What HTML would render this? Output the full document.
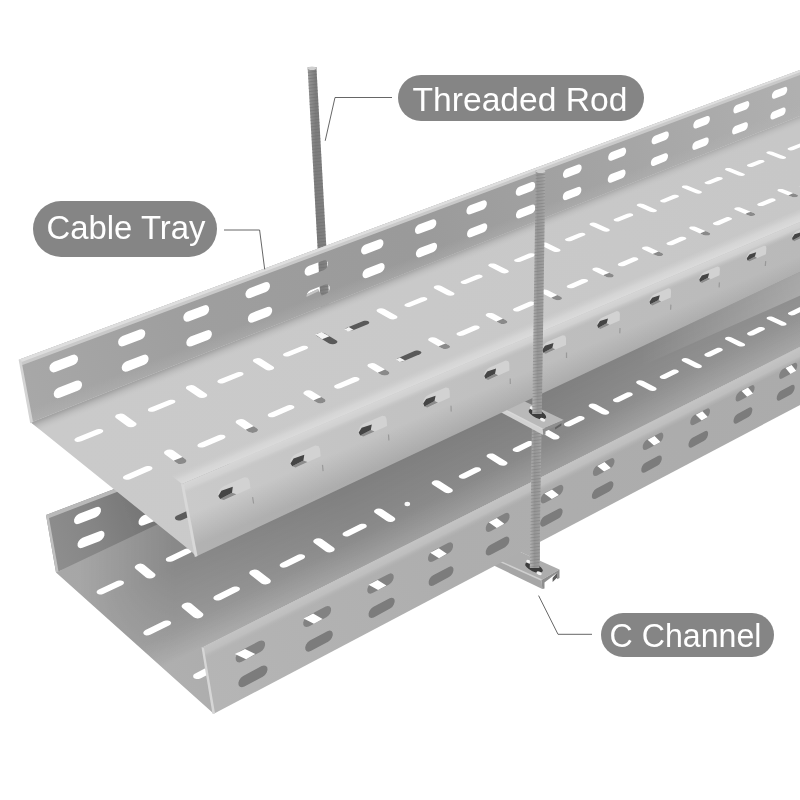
<!DOCTYPE html>
<html><head><meta charset="utf-8"><title>Cable Tray</title>
<style>
html,body{margin:0;padding:0;background:#fff;}
body{width:800px;height:800px;overflow:hidden;position:relative;font-family:"Liberation Sans",sans-serif;}
svg{position:absolute;left:0;top:0;display:block}
</style></head><body>
<svg width="800" height="800" viewBox="0 0 800 800">
<defs><linearGradient id="gUBW" gradientUnits="userSpaceOnUse" x1="20" y1="390" x2="800" y2="95"><stop offset="0" stop-color="#a8a8a8"/><stop offset="0.2" stop-color="#9f9f9f"/><stop offset="0.5" stop-color="#9a9a9a"/><stop offset="0.75" stop-color="#a4a4a4"/><stop offset="1" stop-color="#b0b0b0"/></linearGradient><linearGradient id="gUFL" gradientUnits="userSpaceOnUse" x1="60" y1="450" x2="800" y2="170"><stop offset="0" stop-color="#cacaca"/><stop offset="0.5" stop-color="#c9c9c9"/><stop offset="1" stop-color="#c7c7c7"/></linearGradient><linearGradient id="gUFW" gradientUnits="userSpaceOnUse" x1="190" y1="520" x2="800" y2="247"><stop offset="0" stop-color="#cacaca"/><stop offset="0.3" stop-color="#c3c3c3"/><stop offset="0.6" stop-color="#bebebe"/><stop offset="1" stop-color="#b9b9b9"/></linearGradient><linearGradient id="gLFW" gradientUnits="userSpaceOnUse" x1="205" y1="680" x2="800" y2="376"><stop offset="0" stop-color="#b5b5b5"/><stop offset="0.4" stop-color="#aeaeae"/><stop offset="1" stop-color="#ababab"/></linearGradient><linearGradient id="gLBW" gradientUnits="userSpaceOnUse" x1="46" y1="540" x2="230" y2="470"><stop offset="0" stop-color="#8e8e8e"/><stop offset="0.25" stop-color="#858585"/><stop offset="0.55" stop-color="#747474"/><stop offset="1" stop-color="#6e6e6e"/></linearGradient><linearGradient id="gROD" x1="0" y1="0" x2="1" y2="0"><stop offset="0" stop-color="#9a9a9a"/><stop offset="0.35" stop-color="#7c7c7c"/><stop offset="0.7" stop-color="#808080"/><stop offset="1" stop-color="#8e8e8e"/></linearGradient><linearGradient id="gJ1" gradientUnits="userSpaceOnUse" x1="400" y1="275.4" x2="404.1" y2="285.6"><stop offset="0" stop-color="#a4a4a4" stop-opacity="1"/><stop offset="0.35" stop-color="#b4b4b4" stop-opacity="0.7"/><stop offset="1" stop-color="#c8c8c8" stop-opacity="0"/></linearGradient><linearGradient id="gLFL" gradientUnits="userSpaceOnUse" x1="56" y1="600" x2="800" y2="300"><stop offset="0" stop-color="#a8a8a8"/><stop offset="0.15" stop-color="#a2a2a2"/><stop offset="0.38" stop-color="#969696"/><stop offset="0.65" stop-color="#959595"/><stop offset="0.85" stop-color="#9f9f9f"/><stop offset="1" stop-color="#a3a3a3"/></linearGradient><linearGradient id="gLFLd" gradientUnits="userSpaceOnUse" x1="450" y1="436.9" x2="486.2" y2="513.8"><stop offset="0" stop-color="#000000" stop-opacity="0.15"/><stop offset="0.55" stop-color="#000000" stop-opacity="0.08"/><stop offset="1" stop-color="#000000" stop-opacity="0"/></linearGradient><linearGradient id="gLFLs" gradientUnits="userSpaceOnUse" x1="450" y1="523.0" x2="437.4" y2="498.0"><stop offset="0" stop-color="#ffffff" stop-opacity="0.12"/><stop offset="1" stop-color="#ffffff" stop-opacity="0"/></linearGradient><linearGradient id="gUFWs" gradientUnits="userSpaceOnUse" x1="450" y1="370.4" x2="474.2" y2="427.5"><stop offset="0" stop-color="#ffffff" stop-opacity="0.0"/><stop offset="0.15" stop-color="#ffffff" stop-opacity="0.0"/><stop offset="0.5" stop-color="#000000" stop-opacity="0.0"/><stop offset="1" stop-color="#000000" stop-opacity="0.12"/></linearGradient><linearGradient id="gUFWr" gradientUnits="userSpaceOnUse" x1="450" y1="370.4" x2="454.3" y2="380.5"><stop offset="0" stop-color="#d6d6d6" stop-opacity="1"/><stop offset="0.5" stop-color="#d2d2d2" stop-opacity="0.9"/><stop offset="1" stop-color="#c6c6c6" stop-opacity="0"/></linearGradient><linearGradient id="gUFLh" gradientUnits="userSpaceOnUse" x1="450" y1="370.4" x2="444.9" y2="358.4"><stop offset="0" stop-color="#dcdcdc" stop-opacity="0.95"/><stop offset="0.45" stop-color="#dadada" stop-opacity="0.7"/><stop offset="1" stop-color="#d0d0d0" stop-opacity="0"/></linearGradient><linearGradient id="gLFWr" gradientUnits="userSpaceOnUse" x1="450" y1="523.0" x2="455.8" y2="534.6"><stop offset="0" stop-color="#c4c4c4" stop-opacity="1"/><stop offset="0.55" stop-color="#c0c0c0" stop-opacity="0.9"/><stop offset="1" stop-color="#b4b4b4" stop-opacity="0"/></linearGradient><linearGradient id="gUBWr" gradientUnits="userSpaceOnUse" x1="400" y1="275.4" x2="395.6" y2="264.3"><stop offset="0" stop-color="#b8b8b8" stop-opacity="0.35"/><stop offset="1" stop-color="#b8b8b8" stop-opacity="0"/></linearGradient><linearGradient id="gROD2" x1="0" y1="0" x2="1" y2="0"><stop offset="0" stop-color="#b4b4b4"/><stop offset="0.4" stop-color="#959595"/><stop offset="0.75" stop-color="#9c9c9c"/><stop offset="1" stop-color="#a8a8a8"/></linearGradient><linearGradient id="gMk" gradientUnits="userSpaceOnUse" x1="80" y1="0" x2="175" y2="0"><stop offset="0" stop-color="#000"/><stop offset="1" stop-color="#fff"/></linearGradient><mask id="mL" maskUnits="userSpaceOnUse" x="0" y="0" width="800" height="800"><rect x="0" y="0" width="800" height="800" fill="url(#gMk)"/></mask><linearGradient id="gBand" gradientUnits="userSpaceOnUse" x1="640" y1="0" x2="800" y2="0"><stop offset="0" stop-color="#ffffff" stop-opacity="0"/><stop offset="0.5" stop-color="#ffffff" stop-opacity="0.12"/><stop offset="1" stop-color="#ffffff" stop-opacity="0.24"/></linearGradient><filter id="soft" x="-2%" y="-2%" width="104%" height="104%"><feGaussianBlur stdDeviation="0.45"/></filter></defs>
<g filter="url(#soft)">
<polygon points="307.6,67.0 316.4,67.0 330.9,330.0 322.1,330.0" fill="url(#gROD)" />
<path d="M307.7,69.2L316.5,68.0M307.9,72.4L316.7,71.2M308.0,75.6L316.8,74.4M308.2,78.8L317.0,77.6M308.4,82.0L317.2,80.8M308.6,85.2L317.4,84.0M308.7,88.4L317.5,87.2M308.9,91.7L317.7,90.5M309.1,94.9L317.9,93.7M309.3,98.1L318.1,96.9M309.5,101.3L318.3,100.1M309.6,104.5L318.4,103.3M309.8,107.7L318.6,106.5M310.0,110.9L318.8,109.7M310.2,114.1L319.0,112.9M310.3,117.3L319.1,116.1M310.5,120.5L319.3,119.3M310.7,123.7L319.5,122.5M310.9,126.9L319.7,125.7M311.0,130.1L319.8,128.9M311.2,133.3L320.0,132.2M311.4,136.6L320.2,135.4M311.6,139.8L320.4,138.6M311.8,143.0L320.6,141.8M311.9,146.2L320.7,145.0M312.1,149.4L320.9,148.2M312.3,152.6L321.1,151.4M312.5,155.8L321.3,154.6M312.6,159.0L321.4,157.8M312.8,162.2L321.6,161.0M313.0,165.4L321.8,164.2M313.2,168.6L322.0,167.4M313.3,171.8L322.1,170.6M313.5,175.0L322.3,173.8M313.7,178.3L322.5,177.1M313.9,181.5L322.7,180.3M314.1,184.7L322.9,183.5M314.2,187.9L323.0,186.7M314.4,191.1L323.2,189.9M314.6,194.3L323.4,193.1M314.8,197.5L323.6,196.3M314.9,200.7L323.7,199.5M315.1,203.9L323.9,202.7M315.3,207.1L324.1,205.9M315.5,210.3L324.3,209.1M315.6,213.5L324.4,212.3M315.8,216.7L324.6,215.5M316.0,219.9L324.8,218.7M316.2,223.2L325.0,222.0M316.4,226.4L325.2,225.2M316.5,229.6L325.3,228.4M316.7,232.8L325.5,231.6M316.9,236.0L325.7,234.8M317.1,239.2L325.9,238.0M317.2,242.4L326.0,241.2M317.4,245.6L326.2,244.4M317.6,248.8L326.4,247.6M317.8,252.0L326.6,250.8M317.9,255.2L326.7,254.0M318.1,258.4L326.9,257.2M318.3,261.6L327.1,260.4M318.5,264.9L327.3,263.6M318.7,268.1L327.5,266.9M318.8,271.3L327.6,270.1M319.0,274.5L327.8,273.3M319.2,277.7L328.0,276.5M319.4,280.9L328.2,279.7M319.5,284.1L328.3,282.9M319.7,287.3L328.5,286.1M319.9,290.5L328.7,289.3M320.1,293.7L328.9,292.5M320.2,296.9L329.0,295.7M320.4,300.1L329.2,298.9M320.6,303.3L329.4,302.1M320.8,306.5L329.6,305.3M321.0,309.8L329.8,308.6M321.1,313.0L329.9,311.8M321.3,316.2L330.1,315.0M321.5,319.4L330.3,318.2M321.7,322.6L330.5,321.4M321.8,325.8L330.6,324.6M322.0,329.0L330.8,327.8" stroke="#6c6c6c" stroke-width="0.9" fill="none" opacity="0.55"/>
<ellipse cx="312.0" cy="68.2" rx="4.4" ry="1.8" fill="#cfcfcf"/>
<path d="M46.0,515.0 L230.0,445.0 L230.0,505.0 L56.0,572.5Z M96.0,507.2 L98.2,506.8 L99.9,507.5 L100.9,509.1 L100.9,511.4 L99.9,513.7 L98.2,515.8 L96.0,517.2 L79.0,523.8 L76.8,524.2 L75.1,523.5 L74.1,521.9 L74.1,519.6 L75.1,517.3 L76.8,515.2 L79.0,513.8Z M99.5,531.2 L101.7,530.8 L103.4,531.5 L104.4,533.1 L104.4,535.4 L103.4,537.7 L101.7,539.8 L99.5,541.2 L82.5,547.8 L80.3,548.2 L78.6,547.5 L77.6,545.9 L77.6,543.6 L78.6,541.3 L80.3,539.2 L82.5,537.8Z M160.5,508.7 L162.7,508.3 L164.4,509.0 L165.4,510.6 L165.4,512.9 L164.4,515.2 L162.7,517.3 L160.5,518.7 L143.5,525.3 L141.3,525.7 L139.6,525.0 L138.6,523.4 L138.6,521.1 L139.6,518.8 L141.3,516.7 L143.5,515.3Z " fill="url(#gLBW)" fill-rule="evenodd"/>
<polygon points="46.0,515.0 230.0,445.0 230.0,448.5 48.0,518.5" fill="#b9b9b9" />
<polygon points="46.0,515.0 48.6,515.5 58.6,572.0 56.0,572.5" fill="#c0c0c0" />
<polygon points="56.0,572.5 230.0,490.0 810.0,240.0 810.0,342.0 202.5,647.5 213.8,713.8" fill="url(#gLFL)" />
<polygon points="56.0,572.5 230.0,490.0 810.0,240.0 810.0,342.0 202.5,647.5 213.8,713.8" fill="url(#gLFLs)" />
<polygon points="56.0,572.5 230.0,490.0 810.0,240.0 810.0,342.0 202.5,647.5 213.8,713.8" fill="url(#gLFLd)" mask="url(#mL)"/>
<polygon points="640.0,347.4 810.0,267.3 810.0,291.3 640.0,366.4" fill="url(#gBand)" />
<path d="M116.9,581.1 L118.8,580.5 L120.9,580.4 L122.7,580.9 L123.8,581.8 L124.0,583.0 L123.3,584.2 L121.8,585.3 L103.7,593.8 L101.7,594.4 L99.7,594.5 L97.9,594.0 L96.8,593.0 L96.6,591.8 L97.3,590.6 L98.8,589.5Z M146.0,577.5 L147.6,578.3 L149.8,578.5 L152.1,578.2 L154.1,577.2 L155.3,575.9 L155.5,574.6 L154.7,573.4 L144.2,564.7 L142.6,563.9 L140.4,563.6 L138.1,564.0 L136.2,564.9 L135.0,566.2 L134.7,567.5 L135.5,568.7Z M184.9,549.1 L186.8,548.6 L188.8,548.5 L190.5,549.0 L191.6,549.8 L191.9,551.0 L191.3,552.2 L189.9,553.1 L172.8,561.2 L170.9,561.8 L168.9,561.8 L167.1,561.4 L166.0,560.5 L165.8,559.3 L166.4,558.1 L167.8,557.2Z " fill="#fff"/>
<path d="M163.8,621.1 L165.8,620.4 L167.9,620.4 L169.7,620.9 L170.9,621.9 L171.2,623.1 L170.5,624.5 L169.0,625.6 L150.7,634.6 L148.7,635.3 L146.5,635.4 L144.7,634.9 L143.5,633.8 L143.3,632.5 L144.0,631.2 L145.5,630.1Z M193.7,617.3 L195.4,618.1 L197.7,618.4 L200.0,618.0 L202.0,617.0 L203.2,615.6 L203.4,614.1 L202.5,612.9 L191.3,603.6 L189.6,602.7 L187.3,602.5 L185.0,602.9 L183.0,603.9 L181.8,605.2 L181.6,606.7 L182.5,607.9Z M232.6,587.1 L234.6,586.4 L236.6,586.4 L238.4,586.9 L239.6,587.8 L240.0,589.0 L239.4,590.3 L238.0,591.3 L220.7,599.9 L218.7,600.5 L216.6,600.6 L214.8,600.1 L213.7,599.1 L213.3,597.9 L214.0,596.6 L215.4,595.6Z M261.5,583.5 L263.2,584.3 L265.5,584.5 L267.7,584.1 L269.6,583.2 L270.7,581.9 L270.8,580.5 L269.9,579.3 L258.5,570.5 L256.8,569.7 L254.6,569.5 L252.4,569.9 L250.5,570.8 L249.4,572.0 L249.3,573.4 L250.1,574.6Z M297.9,554.8 L299.7,554.3 L301.7,554.2 L303.5,554.7 L304.7,555.6 L305.1,556.7 L304.6,557.9 L303.3,558.9 L286.9,567.0 L285.0,567.6 L283.0,567.7 L281.2,567.2 L280.0,566.3 L279.6,565.1 L280.2,563.9 L281.5,562.9Z M325.8,551.4 L327.5,552.2 L329.7,552.4 L331.8,552.1 L333.6,551.2 L334.6,550.0 L334.6,548.6 L333.7,547.5 L322.2,539.2 L320.5,538.4 L318.3,538.2 L316.2,538.5 L314.4,539.4 L313.4,540.6 L313.3,541.9 L314.2,543.1Z M359.7,524.3 L361.4,523.8 L363.4,523.7 L365.2,524.1 L366.4,525.0 L366.8,526.1 L366.4,527.2 L365.2,528.1 L349.6,535.8 L347.8,536.4 L345.9,536.5 L344.1,536.0 L342.9,535.2 L342.5,534.1 L342.9,532.9 L344.2,532.0Z M386.7,521.1 L388.4,521.8 L390.5,522.0 L392.6,521.7 L394.3,520.8 L395.2,519.7 L395.2,518.4 L394.2,517.3 L382.6,509.4 L380.9,508.7 L378.8,508.5 L376.7,508.8 L375.0,509.7 L374.1,510.8 L374.1,512.0 L375.0,513.1Z M444.5,492.3 L446.2,493.0 L448.3,493.2 L450.4,492.8 L452.0,492.0 L452.8,490.9 L452.7,489.7 L451.7,488.7 L440.0,481.2 L438.3,480.5 L436.2,480.3 L434.2,480.6 L432.6,481.4 L431.7,482.5 L431.8,483.7 L432.8,484.7Z M474.2,467.8 L475.8,467.3 L477.6,467.2 L479.4,467.6 L480.6,468.4 L481.1,469.4 L480.8,470.4 L479.7,471.2 L465.7,478.2 L464.1,478.7 L462.2,478.7 L460.5,478.3 L459.2,477.6 L458.7,476.6 L459.1,475.5 L460.2,474.7Z M499.5,464.9 L501.2,465.5 L503.3,465.7 L505.2,465.4 L506.7,464.6 L507.5,463.6 L507.4,462.5 L506.3,461.5 L494.5,454.3 L492.9,453.6 L490.8,453.5 L488.9,453.8 L487.4,454.5 L486.6,455.5 L486.7,456.7 L487.7,457.6Z M527.3,441.5 L528.8,441.1 L530.6,441.0 L532.3,441.4 L533.6,442.1 L534.1,443.1 L533.9,444.0 L532.9,444.8 L519.5,451.5 L517.9,451.9 L516.1,452.0 L514.4,451.6 L513.2,450.9 L512.6,449.9 L512.9,448.9 L513.9,448.1Z M551.9,438.8 L553.6,439.4 L555.6,439.6 L557.5,439.3 L558.9,438.6 L559.6,437.6 L559.4,436.5 L558.4,435.5 L546.5,428.7 L544.8,428.1 L542.9,427.9 L541.0,428.2 L539.5,428.9 L538.8,429.9 L539.0,431.0 L540.0,431.9Z M577.9,416.5 L579.4,416.1 L581.1,416.1 L582.8,416.4 L584.0,417.1 L584.6,418.0 L584.4,418.9 L583.5,419.7 L570.7,426.0 L569.2,426.5 L567.5,426.5 L565.8,426.2 L564.5,425.4 L564.0,424.5 L564.2,423.6 L565.2,422.8Z M601.8,413.9 L603.4,414.5 L605.4,414.7 L607.2,414.4 L608.6,413.7 L609.3,412.8 L609.0,411.7 L607.9,410.8 L596.1,404.3 L594.4,403.7 L592.5,403.5 L590.6,403.8 L589.3,404.5 L588.6,405.4 L588.8,406.5 L589.9,407.4Z M626.2,392.7 L627.6,392.3 L629.3,392.2 L631.0,392.6 L632.2,393.2 L632.8,394.1 L632.6,395.0 L631.8,395.7 L619.6,401.7 L618.2,402.2 L616.4,402.2 L614.8,401.9 L613.5,401.2 L612.9,400.3 L613.1,399.4 L614.0,398.7Z M649.4,390.2 L651.0,390.8 L652.9,390.9 L654.7,390.7 L656.1,390.0 L656.6,389.1 L656.3,388.1 L655.3,387.3 L643.4,381.0 L641.7,380.5 L639.8,380.3 L638.0,380.6 L636.7,381.2 L636.1,382.1 L636.4,383.1 L637.5,383.9Z M672.3,369.9 L673.7,369.5 L675.3,369.5 L676.9,369.8 L678.2,370.4 L678.8,371.3 L678.7,372.1 L677.9,372.8 L666.3,378.6 L664.9,379.0 L663.2,379.0 L661.5,378.7 L660.3,378.0 L659.7,377.2 L659.8,376.4 L660.7,375.7Z M694.8,367.5 L696.5,368.1 L698.4,368.3 L700.1,368.0 L701.4,367.4 L701.9,366.5 L701.6,365.6 L700.5,364.7 L688.6,358.8 L687.0,358.2 L685.1,358.1 L683.4,358.3 L682.1,358.9 L681.6,359.8 L681.9,360.7 L682.9,361.5Z M716.3,348.2 L717.7,347.8 L719.3,347.7 L720.9,348.0 L722.2,348.7 L722.8,349.4 L722.7,350.2 L721.9,350.9 L710.8,356.4 L709.5,356.8 L707.8,356.9 L706.2,356.5 L705.0,355.9 L704.4,355.1 L704.4,354.3 L705.2,353.6Z M738.3,345.9 L739.9,346.4 L741.8,346.6 L743.5,346.3 L744.7,345.7 L745.2,344.9 L744.8,344.0 L743.7,343.2 L731.8,337.5 L730.2,337.0 L728.4,336.8 L726.7,337.0 L725.5,337.6 L725.0,338.5 L725.3,339.4 L726.4,340.1Z M758.5,327.3 L759.8,327.0 L761.4,326.9 L763.0,327.2 L764.2,327.8 L764.9,328.6 L764.9,329.3 L764.1,330.0 L753.5,335.2 L752.2,335.6 L750.6,335.7 L749.0,335.4 L747.7,334.8 L747.1,334.0 L747.1,333.2 L747.9,332.6Z M779.9,325.1 L781.5,325.7 L783.3,325.8 L785.0,325.6 L786.1,325.0 L786.6,324.2 L786.2,323.3 L785.1,322.6 L773.2,317.1 L771.6,316.6 L769.8,316.5 L768.2,316.7 L767.0,317.2 L766.6,318.0 L766.9,318.9 L768.0,319.6Z M798.9,307.4 L800.2,307.0 L801.7,307.0 L803.3,307.3 L804.5,307.8 L805.2,308.6 L805.2,309.3 L804.5,309.9 L794.3,315.0 L793.1,315.3 L791.5,315.4 L789.9,315.1 L788.7,314.5 L788.0,313.8 L788.0,313.0 L788.7,312.4Z M819.8,305.3 L821.4,305.8 L823.1,305.9 L824.8,305.7 L825.9,305.1 L826.2,304.4 L825.8,303.5 L824.7,302.8 L812.9,297.6 L811.3,297.1 L809.5,296.9 L807.9,297.2 L806.8,297.7 L806.4,298.5 L806.8,299.3 L807.9,300.0Z " fill="#fff"/>
<ellipse cx="407.3" cy="504.0" rx="2.8" ry="2.2" fill="#f8f8f8"/>
<path d="M213.8,663.8 L215.8,663.1 L218.0,663.0 L219.9,663.6 L221.2,664.6 L221.5,666.0 L220.9,667.4 L219.4,668.6 L200.9,678.3 L198.8,679.0 L196.5,679.1 L194.6,678.5 L193.4,677.4 L193.1,676.0 L193.7,674.6 L195.3,673.4Z " fill="#fff"/>
<polygon points="470.0,548.0 494.0,540.0 559.5,569.5 541.5,580.0" fill="#adadad" />
<polygon points="470.0,548.0 541.5,580.0 542.3,589.0 471.5,554.8" fill="#a6a6a6" />
<path d="M470.0,548.0L541.5,580.0" stroke="#cfcfcf" stroke-width="1.4" fill="none"/>
<polygon points="541.5,580.0 559.5,569.5 559.5,578.0 557.1,579.2 557.1,572.7 544.5,582.6 544.5,588.4 542.3,589.0" fill="#8e8e8e" />
<polygon points="552.6,577.9 557.1,572.7 557.1,577.6 552.6,582.0" fill="#5e5e5e" />
<ellipse cx="534" cy="567.5" rx="9.5" ry="4" fill="#3c3c3c" transform="rotate(24 534 567.5)"/>
<ellipse cx="541" cy="570.6" rx="2.8" ry="1.7" fill="#f2f2f2" transform="rotate(24 534 567.5)"/>
<ellipse cx="527" cy="564.4" rx="2.8" ry="1.7" fill="#f2f2f2" transform="rotate(24 534 567.5)"/>
<polygon points="202.5,647.5 810.0,342.0 810.0,399.7 213.8,713.8" fill="url(#gLFW)" />
<polygon points="508.0,557.8 540.0,540.9 540.0,561.0 516.0,550.0" fill="url(#gLFW)" />
<polygon points="202.5,647.5 810.0,342.0 810.0,356.0 205.0,662.0" fill="url(#gLFWr)" />
<polygon points="201.5,647.2 204.0,648.3 215.0,713.3 212.5,714.0" fill="#d6d6d6" />
<path d="M259.2,641.1 L261.6,640.4 L263.6,641.0 L264.9,642.6 L265.1,645.0 L264.3,647.7 L262.6,650.2 L260.3,651.9 L241.7,661.7 L239.3,662.4 L237.2,661.9 L235.9,660.3 L235.6,657.8 L236.5,655.1 L238.2,652.6 L240.6,650.8Z M325.7,606.6 L327.9,606.0 L329.8,606.5 L331.0,608.2 L331.1,610.5 L330.3,613.2 L328.6,615.6 L326.4,617.3 L308.8,626.5 L306.5,627.1 L304.6,626.6 L303.4,625.0 L303.2,622.6 L304.1,619.9 L305.8,617.5 L308.0,615.8Z M388.7,573.9 L390.8,573.3 L392.6,573.9 L393.6,575.5 L393.7,577.9 L392.8,580.5 L391.2,582.8 L389.1,584.4 L372.5,593.1 L370.3,593.7 L368.5,593.2 L367.4,591.6 L367.3,589.2 L368.2,586.6 L369.8,584.2 L371.9,582.6Z M448.4,542.8 L450.5,542.3 L452.1,542.9 L453.0,544.5 L453.0,546.9 L452.2,549.4 L450.6,551.7 L448.6,553.2 L432.8,561.5 L430.8,562.1 L429.1,561.5 L428.1,559.9 L428.1,557.5 L428.9,555.0 L430.5,552.7 L432.6,551.1Z M505.2,513.3 L507.1,512.8 L508.7,513.5 L509.5,515.1 L509.5,517.4 L508.6,519.9 L507.1,522.1 L505.2,523.6 L490.1,531.5 L488.2,532.0 L486.7,531.4 L485.8,529.8 L485.8,527.5 L486.6,524.9 L488.2,522.7 L490.1,521.2Z M559.3,485.3 L561.1,484.8 L562.5,485.5 L563.3,487.1 L563.2,489.3 L562.3,491.8 L560.8,493.9 L559.0,495.4 L544.7,502.9 L542.9,503.4 L541.4,502.7 L540.6,501.1 L540.7,498.8 L541.5,496.4 L543.1,494.2 L544.9,492.7Z M610.8,458.5 L612.5,458.1 L613.8,458.8 L614.5,460.4 L614.4,462.6 L613.5,465.0 L612.1,467.1 L610.3,468.5 L596.7,475.7 L594.9,476.1 L593.6,475.4 L592.9,473.8 L593.0,471.6 L593.8,469.2 L595.3,467.0 L597.1,465.6Z M659.9,433.0 L661.5,432.6 L662.7,433.3 L663.3,434.9 L663.2,437.1 L662.3,439.5 L660.9,441.5 L659.2,442.9 L646.2,449.7 L644.6,450.1 L643.3,449.4 L642.7,447.8 L642.8,445.6 L643.7,443.2 L645.1,441.2 L646.8,439.8Z M706.8,408.7 L708.3,408.3 L709.5,409.0 L710.0,410.6 L709.8,412.8 L708.9,415.1 L707.6,417.1 L706.0,418.4 L693.5,424.9 L692.0,425.3 L690.8,424.6 L690.2,423.0 L690.4,420.8 L691.2,418.5 L692.6,416.5 L694.3,415.1Z M751.6,385.4 L753.0,385.1 L754.1,385.8 L754.6,387.4 L754.4,389.5 L753.5,391.8 L752.2,393.7 L750.6,395.0 L738.7,401.2 L737.2,401.5 L736.1,400.9 L735.6,399.3 L735.8,397.1 L736.7,394.8 L738.1,392.9 L739.6,391.6Z M794.4,363.1 L795.8,362.8 L796.8,363.6 L797.3,365.1 L797.0,367.2 L796.2,369.5 L794.8,371.4 L793.3,372.6 L782.0,378.6 L780.5,378.9 L779.5,378.2 L779.1,376.6 L779.3,374.5 L780.2,372.2 L781.5,370.3 L783.0,369.1Z M835.5,341.8 L836.8,341.5 L837.8,342.3 L838.1,343.8 L837.9,345.9 L837.0,348.1 L835.7,350.0 L834.3,351.2 L823.4,356.9 L822.0,357.1 L821.1,356.4 L820.7,354.9 L820.9,352.8 L821.8,350.6 L823.1,348.7 L824.5,347.5Z " fill="#828282"/>
<path d="M234.9,654.1 L245.0,648.9 L255.3,654.1 L246.1,659.2Z M303.6,618.4 L313.1,613.5 L322.6,618.9 L313.9,623.7Z M368.6,584.7 L377.6,580.0 L386.4,585.5 L378.1,590.1Z M430.2,552.7 L438.8,548.2 L446.8,553.8 L439.0,558.2Z M488.7,522.3 L496.8,518.1 L504.3,523.7 L496.8,527.9Z M544.3,493.4 L552.0,489.4 L558.9,495.1 L551.8,499.1Z M597.2,465.9 L604.5,462.1 L610.9,467.9 L604.1,471.6Z M647.6,439.7 L654.6,436.1 L660.5,441.9 L654.0,445.5Z M695.7,414.8 L702.4,411.3 L707.8,417.1 L701.6,420.6Z M741.6,390.9 L748.0,387.6 L753.0,393.4 L747.1,396.7Z M785.5,368.1 L791.6,364.9 L796.2,370.8 L790.5,374.0Z M827.4,346.3 L833.3,343.2 L837.6,349.1 L832.1,352.2Z " fill="#ffffff"/>
<path d="M261.7,666.1 L264.0,665.4 L266.0,665.9 L267.3,667.5 L267.5,669.8 L266.7,672.5 L265.0,674.9 L262.7,676.7 L244.4,686.5 L242.0,687.2 L239.9,686.8 L238.6,685.2 L238.4,682.8 L239.2,680.2 L240.9,677.7 L243.2,675.9Z M327.4,631.3 L329.6,630.6 L331.5,631.1 L332.6,632.7 L332.8,635.1 L331.9,637.7 L330.3,640.1 L328.1,641.7 L310.7,651.0 L308.5,651.7 L306.6,651.2 L305.4,649.6 L305.2,647.3 L306.0,644.7 L307.7,642.2 L309.9,640.5Z M389.7,598.3 L391.8,597.7 L393.5,598.2 L394.6,599.8 L394.6,602.1 L393.8,604.6 L392.2,607.0 L390.1,608.6 L373.7,617.4 L371.5,618.0 L369.7,617.5 L368.7,615.9 L368.6,613.6 L369.4,611.0 L371.0,608.7 L373.1,607.0Z M448.9,566.9 L450.9,566.3 L452.5,566.9 L453.4,568.5 L453.4,570.8 L452.6,573.3 L451.0,575.5 L449.0,577.1 L433.4,585.5 L431.4,586.0 L429.7,585.5 L428.8,583.9 L428.7,581.6 L429.5,579.1 L431.1,576.8 L433.1,575.2Z M505.1,537.1 L507.0,536.6 L508.5,537.2 L509.3,538.7 L509.3,541.0 L508.5,543.4 L506.9,545.6 L505.1,547.2 L490.2,555.1 L488.2,555.6 L486.7,555.1 L485.8,553.5 L485.8,551.2 L486.7,548.8 L488.2,546.5 L490.2,545.0Z M558.7,508.7 L560.4,508.2 L561.9,508.9 L562.6,510.4 L562.5,512.6 L561.7,515.0 L560.2,517.2 L558.4,518.6 L544.2,526.2 L542.4,526.7 L541.0,526.1 L540.2,524.5 L540.2,522.3 L541.1,519.9 L542.6,517.7 L544.4,516.2Z M609.7,481.6 L611.4,481.2 L612.7,481.9 L613.4,483.4 L613.3,485.6 L612.4,488.0 L611.0,490.1 L609.2,491.5 L595.7,498.7 L594.0,499.1 L592.6,498.5 L591.9,497.0 L592.0,494.8 L592.9,492.4 L594.3,490.3 L596.1,488.8Z M658.4,455.8 L660.0,455.4 L661.2,456.1 L661.8,457.7 L661.7,459.8 L660.8,462.1 L659.4,464.2 L657.7,465.5 L644.8,472.4 L643.2,472.8 L641.9,472.2 L641.3,470.7 L641.4,468.5 L642.3,466.1 L643.7,464.1 L645.4,462.7Z M704.9,431.2 L706.4,430.8 L707.6,431.5 L708.1,433.0 L707.9,435.2 L707.1,437.5 L705.7,439.4 L704.1,440.8 L691.7,447.4 L690.2,447.7 L689.0,447.1 L688.5,445.5 L688.6,443.4 L689.5,441.1 L690.9,439.1 L692.5,437.8Z M749.4,407.6 L750.8,407.3 L751.9,408.0 L752.4,409.5 L752.1,411.6 L751.3,413.9 L750.0,415.8 L748.4,417.1 L736.6,423.4 L735.1,423.7 L734.0,423.1 L733.5,421.5 L733.7,419.4 L734.6,417.1 L735.9,415.2 L737.5,413.9Z M791.9,385.1 L793.3,384.8 L794.3,385.4 L794.7,387.0 L794.5,389.1 L793.6,391.3 L792.3,393.2 L790.8,394.4 L779.5,400.4 L778.1,400.7 L777.1,400.1 L776.7,398.5 L776.9,396.5 L777.8,394.2 L779.1,392.3 L780.6,391.1Z M832.7,363.5 L834.0,363.2 L834.9,363.9 L835.3,365.4 L835.0,367.4 L834.2,369.6 L832.9,371.5 L831.5,372.7 L820.7,378.4 L819.3,378.7 L818.4,378.1 L818.0,376.5 L818.2,374.5 L819.1,372.3 L820.4,370.4 L821.8,369.2Z " fill="#7b7b7b"/>
<polygon points="532.1,416.0 541.7,416.0 539.4,568.0 529.8,568.0" fill="url(#gROD2)" />
<path d="M532.1,418.2L541.7,417.0M532.0,421.5L541.6,420.3M532.0,424.7L541.6,423.5M531.9,427.9L541.5,426.7M531.9,431.2L541.5,430.0M531.8,434.4L541.4,433.2M531.8,437.6L541.4,436.4M531.7,440.9L541.3,439.7M531.7,444.1L541.3,442.9M531.6,447.3L541.2,446.1M531.6,450.6L541.2,449.4M531.5,453.8L541.1,452.6M531.5,457.0L541.1,455.8M531.4,460.3L541.0,459.1M531.4,463.5L541.0,462.3M531.3,466.7L540.9,465.5M531.3,470.0L540.9,468.8M531.2,473.2L540.8,472.0M531.2,476.4L540.8,475.2M531.1,479.7L540.7,478.5M531.1,482.9L540.7,481.7M531.0,486.1L540.6,484.9M531.0,489.4L540.6,488.2M531.0,492.6L540.5,491.4M530.9,495.8L540.5,494.6M530.9,499.1L540.5,497.9M530.8,502.3L540.4,501.1M530.8,505.5L540.4,504.3M530.7,508.8L540.3,507.6M530.7,512.0L540.3,510.8M530.6,515.2L540.2,514.0M530.6,518.5L540.2,517.3M530.5,521.7L540.1,520.5M530.5,524.9L540.1,523.7M530.4,528.2L540.0,527.0M530.4,531.4L540.0,530.2M530.3,534.6L539.9,533.4M530.3,537.9L539.9,536.7M530.2,541.1L539.8,539.9M530.2,544.3L539.8,543.1M530.1,547.6L539.7,546.4M530.1,550.8L539.7,549.6M530.0,554.0L539.6,552.8M530.0,557.3L539.6,556.1M529.9,560.5L539.5,559.3M529.9,563.7L539.5,562.5M529.8,567.0L539.4,565.8" stroke="#7a7a7a" stroke-width="0.9" fill="none" opacity="0.55"/>
<polygon points="470.0,392.0 490.0,385.0 563.8,420.0 542.5,429.0" fill="#b9b9b9" />
<polygon points="470.0,392.0 542.5,429.0 543.3,435.0 471.5,396.5" fill="#d2d2d2" />
<path d="M470.0,392.0L542.5,429.0" stroke="#d8d8d8" stroke-width="1.4" fill="none"/>
<polygon points="542.5,429.0 563.8,420.0 563.8,425.7 561.4,426.9 561.4,423.2 545.5,431.6 545.5,434.4 543.3,435.0" fill="#8e8e8e" />
<polygon points="555.1,427.6 561.4,423.2 561.4,425.4 555.1,429.4" fill="#5e5e5e" />
<ellipse cx="537.5" cy="414" rx="9.5" ry="4" fill="#3c3c3c" transform="rotate(24 537.5 414)"/>
<ellipse cx="544.5" cy="417.1" rx="2.8" ry="1.7" fill="#f2f2f2" transform="rotate(24 537.5 414)"/>
<ellipse cx="530.5" cy="410.9" rx="2.8" ry="1.7" fill="#f2f2f2" transform="rotate(24 537.5 414)"/>
<polygon points="31.0,422.5 810.0,112.0 810.0,217.8 182.0,484.0 196.0,556.5 192.0,552.0" fill="url(#gUFL)" />
<polygon points="31.0,422.5 810.0,112.0 810.0,124.0 46.5,435.0" fill="url(#gJ1)" />
<path d="M96.4,429.6 L98.3,429.1 L100.4,429.0 L102.1,429.4 L103.1,430.2 L103.3,431.2 L102.6,432.3 L101.2,433.2 L81.4,441.3 L79.4,441.8 L77.4,441.9 L75.6,441.4 L74.6,440.6 L74.4,439.6 L75.2,438.5 L76.7,437.6Z M127.2,426.3 L128.8,427.0 L130.9,427.2 L133.2,426.9 L135.1,426.1 L136.3,425.0 L136.6,423.8 L135.8,422.8 L124.5,414.4 L122.9,413.8 L120.8,413.6 L118.6,413.9 L116.6,414.6 L115.4,415.7 L115.1,416.9 L115.9,417.9Z M168.5,400.2 L170.4,399.7 L172.4,399.7 L174.1,400.1 L175.2,400.8 L175.4,401.8 L174.8,402.8 L173.4,403.6 L154.8,411.3 L152.9,411.8 L150.9,411.8 L149.2,411.4 L148.1,410.7 L147.9,409.7 L148.5,408.6 L149.9,407.8Z M198.2,397.1 L199.8,397.8 L202.0,398.0 L204.1,397.7 L206.0,396.9 L207.1,395.9 L207.2,394.8 L206.4,393.8 L194.9,385.9 L193.3,385.3 L191.2,385.1 L189.1,385.4 L187.2,386.1 L186.1,387.1 L185.9,388.2 L186.7,389.2Z M236.8,372.5 L238.6,372.0 L240.5,371.9 L242.1,372.3 L243.2,373.0 L243.6,374.0 L243.0,374.9 L241.7,375.7 L224.1,382.9 L222.3,383.4 L220.3,383.4 L218.7,383.1 L217.6,382.3 L217.3,381.4 L217.8,380.4 L219.1,379.6Z M265.5,369.6 L267.1,370.2 L269.1,370.4 L271.2,370.1 L272.9,369.4 L274.0,368.4 L274.0,367.3 L273.2,366.4 L261.5,358.9 L259.9,358.3 L257.9,358.1 L255.8,358.4 L254.1,359.1 L253.0,360.1 L252.9,361.1 L253.7,362.0Z M301.4,346.2 L303.1,345.7 L304.9,345.7 L306.6,346.0 L307.7,346.7 L308.1,347.6 L307.6,348.5 L306.4,349.3 L289.7,356.1 L288.0,356.5 L286.1,356.6 L284.4,356.2 L283.3,355.5 L283.0,354.6 L283.5,353.7 L284.7,353.0Z M389.5,318.7 L391.1,319.2 L393.1,319.4 L395.0,319.1 L396.6,318.5 L397.4,317.6 L397.4,316.6 L396.5,315.8 L384.5,309.1 L382.9,308.5 L381.0,308.3 L379.0,308.6 L377.5,309.2 L376.6,310.1 L376.7,311.0 L377.5,311.9Z M420.9,297.6 L422.4,297.2 L424.2,297.1 L425.8,297.5 L426.9,298.1 L427.4,298.9 L427.0,299.7 L426.0,300.4 L410.9,306.5 L409.3,306.9 L407.6,307.0 L405.9,306.6 L404.8,306.0 L404.4,305.2 L404.7,304.4 L405.8,303.7Z M446.9,295.1 L448.5,295.6 L450.4,295.8 L452.3,295.6 L453.8,294.9 L454.5,294.1 L454.4,293.2 L453.5,292.4 L441.4,286.0 L439.9,285.5 L438.0,285.3 L436.1,285.5 L434.6,286.1 L433.8,287.0 L433.9,287.9 L434.8,288.7Z M476.2,275.1 L477.7,274.7 L479.4,274.6 L481.0,275.0 L482.2,275.5 L482.6,276.3 L482.4,277.1 L481.4,277.7 L467.0,283.6 L465.5,284.0 L463.8,284.0 L462.2,283.7 L461.0,283.1 L460.6,282.3 L460.9,281.5 L461.9,280.9Z M501.4,272.7 L503.0,273.2 L504.9,273.4 L506.7,273.1 L508.1,272.6 L508.8,271.8 L508.7,270.9 L507.7,270.1 L495.6,264.0 L494.0,263.5 L492.2,263.4 L490.4,263.6 L489.0,264.2 L488.2,265.0 L488.4,265.8 L489.3,266.6Z M528.9,253.6 L530.4,253.3 L532.0,253.2 L533.6,253.5 L534.7,254.1 L535.2,254.8 L535.0,255.5 L534.1,256.2 L520.4,261.7 L519.0,262.1 L517.3,262.1 L515.7,261.8 L514.6,261.3 L514.1,260.5 L514.3,259.8 L515.3,259.2Z M553.4,251.4 L554.9,251.9 L556.8,252.0 L558.6,251.8 L559.9,251.3 L560.5,250.5 L560.4,249.7 L559.4,248.9 L547.2,243.1 L545.7,242.6 L543.8,242.5 L542.1,242.7 L540.7,243.2 L540.1,244.0 L540.2,244.8 L541.2,245.5Z M579.1,233.2 L580.5,232.9 L582.2,232.8 L583.7,233.1 L584.9,233.6 L585.4,234.3 L585.2,235.0 L584.3,235.6 L571.3,240.9 L569.9,241.3 L568.3,241.3 L566.7,241.0 L565.6,240.5 L565.0,239.8 L565.2,239.1 L566.1,238.5Z M602.9,231.1 L604.5,231.5 L606.3,231.7 L608.0,231.5 L609.3,230.9 L609.8,230.2 L609.6,229.4 L608.6,228.7 L596.4,223.2 L594.9,222.7 L593.1,222.6 L591.4,222.8 L590.1,223.3 L589.5,224.0 L589.7,224.8 L590.7,225.5Z M627.1,213.7 L628.4,213.4 L630.0,213.3 L631.5,213.6 L632.7,214.1 L633.2,214.8 L633.1,215.4 L632.3,216.0 L619.8,221.1 L618.5,221.4 L616.9,221.4 L615.4,221.2 L614.2,220.7 L613.7,220.0 L613.8,219.3 L614.7,218.8Z M650.2,211.7 L651.7,212.1 L653.5,212.3 L655.2,212.0 L656.4,211.5 L656.9,210.8 L656.6,210.1 L655.6,209.4 L643.4,204.1 L641.9,203.7 L640.1,203.5 L638.5,203.7 L637.3,204.2 L636.7,204.9 L637.0,205.7 L637.9,206.3Z M672.9,195.1 L674.2,194.8 L675.7,194.7 L677.2,195.0 L678.4,195.5 L678.9,196.1 L678.8,196.7 L678.1,197.3 L666.2,202.1 L664.9,202.4 L663.3,202.5 L661.8,202.2 L660.7,201.7 L660.1,201.1 L660.2,200.4 L661.0,199.9Z M695.3,193.1 L696.9,193.6 L698.6,193.7 L700.2,193.5 L701.4,193.0 L701.9,192.3 L701.6,191.6 L700.6,191.0 L688.3,185.9 L686.8,185.5 L685.1,185.4 L683.5,185.5 L682.3,186.0 L681.8,186.7 L682.1,187.4 L683.1,188.0Z M716.7,177.3 L717.9,177.0 L719.4,176.9 L720.9,177.2 L722.1,177.6 L722.7,178.2 L722.6,178.9 L721.9,179.4 L710.5,184.0 L709.2,184.3 L707.7,184.3 L706.2,184.1 L705.1,183.6 L704.5,183.0 L704.6,182.4 L705.3,181.9Z M738.5,175.4 L740.0,175.8 L741.8,175.9 L743.3,175.8 L744.4,175.3 L744.9,174.7 L744.6,174.0 L743.5,173.4 L731.3,168.5 L729.8,168.1 L728.1,168.0 L726.6,168.1 L725.4,168.6 L725.0,169.2 L725.3,169.9 L726.3,170.5Z M758.6,160.2 L759.8,159.9 L761.3,159.9 L762.7,160.1 L763.9,160.6 L764.5,161.2 L764.5,161.7 L763.8,162.2 L752.9,166.7 L751.7,167.0 L750.2,167.0 L748.7,166.8 L747.6,166.3 L747.0,165.7 L747.0,165.1 L747.7,164.6Z M779.9,158.4 L781.4,158.8 L783.1,159.0 L784.6,158.8 L785.7,158.3 L786.1,157.7 L785.7,157.1 L784.7,156.5 L772.5,151.8 L771.0,151.4 L769.3,151.3 L767.8,151.5 L766.7,151.9 L766.3,152.5 L766.7,153.2 L767.7,153.7Z M798.7,143.9 L799.9,143.6 L801.3,143.6 L802.8,143.8 L803.9,144.2 L804.6,144.8 L804.6,145.3 L803.9,145.8 L793.5,150.1 L792.3,150.3 L790.9,150.4 L789.4,150.2 L788.3,149.7 L787.6,149.2 L787.7,148.6 L788.3,148.1Z M819.5,142.2 L821.0,142.6 L822.6,142.7 L824.1,142.5 L825.1,142.1 L825.5,141.5 L825.1,140.9 L824.1,140.3 L811.9,135.8 L810.4,135.4 L808.8,135.3 L807.3,135.5 L806.3,135.9 L805.9,136.5 L806.3,137.1 L807.3,137.7Z M837.3,128.2 L838.4,127.9 L839.8,127.9 L841.2,128.1 L842.4,128.5 L843.0,129.1 L843.0,129.6 L842.4,130.1 L832.4,134.2 L831.3,134.4 L829.9,134.4 L828.4,134.2 L827.3,133.8 L826.6,133.3 L826.6,132.7 L827.3,132.3Z M857.5,126.6 L859.0,126.9 L860.6,127.1 L862.0,126.9 L863.0,126.5 L863.3,125.9 L862.9,125.3 L861.9,124.8 L849.8,120.5 L848.3,120.1 L846.7,120.0 L845.3,120.2 L844.3,120.6 L843.9,121.1 L844.3,121.7 L845.4,122.3Z " fill="#fff"/>
<path d="M145.2,466.6 L147.2,466.1 L149.3,466.0 L151.1,466.5 L152.2,467.3 L152.5,468.4 L151.8,469.6 L150.3,470.5 L130.2,479.2 L128.2,479.7 L126.1,479.8 L124.3,479.3 L123.2,478.5 L122.9,477.3 L123.6,476.2 L125.2,475.2Z M176.8,463.1 L178.5,463.9 L180.8,464.1 L183.1,463.7 L185.1,462.9 L186.3,461.7 L186.5,460.4 L185.6,459.3 L173.5,450.4 L171.9,449.7 L169.6,449.5 L167.3,449.8 L165.4,450.7 L164.2,451.8 L164.0,453.1 L164.8,454.2Z M218.3,435.2 L220.2,434.7 L222.2,434.7 L224.0,435.1 L225.2,435.9 L225.5,436.9 L224.9,438.0 L223.5,438.9 L204.6,447.0 L202.7,447.6 L200.6,447.6 L198.9,447.2 L197.7,446.4 L197.4,445.3 L198.0,444.2 L199.5,443.3Z M248.8,431.9 L250.5,432.6 L252.7,432.9 L254.9,432.5 L256.8,431.7 L257.9,430.6 L258.0,429.4 L257.1,428.4 L244.8,419.9 L243.1,419.3 L241.0,419.1 L238.8,419.4 L236.9,420.2 L235.8,421.3 L235.7,422.4 L236.5,423.5Z M287.4,405.6 L289.2,405.1 L291.1,405.1 L292.9,405.4 L294.1,406.2 L294.4,407.2 L293.9,408.2 L292.6,409.1 L274.8,416.8 L273.0,417.3 L271.0,417.3 L269.2,416.9 L268.0,416.1 L267.7,415.1 L268.2,414.1 L269.5,413.2Z M316.8,402.5 L318.5,403.2 L320.6,403.4 L322.8,403.0 L324.5,402.3 L325.5,401.2 L325.5,400.1 L324.6,399.1 L312.1,391.2 L310.5,390.5 L308.4,390.3 L306.2,390.6 L304.5,391.4 L303.5,392.4 L303.4,393.5 L304.3,394.5Z M352.6,377.6 L354.3,377.1 L356.3,377.1 L358.0,377.4 L359.2,378.2 L359.6,379.1 L359.2,380.1 L358.0,380.9 L341.1,388.1 L339.3,388.6 L337.4,388.7 L335.7,388.3 L334.5,387.5 L334.1,386.6 L334.5,385.6 L335.8,384.8Z M381.1,374.7 L382.7,375.3 L384.8,375.5 L386.9,375.2 L388.5,374.5 L389.4,373.5 L389.4,372.4 L388.5,371.4 L375.8,363.9 L374.2,363.3 L372.1,363.1 L370.1,363.4 L368.4,364.1 L367.5,365.1 L367.5,366.1 L368.4,367.1Z M441.9,348.3 L443.6,348.9 L445.6,349.1 L447.6,348.8 L449.2,348.1 L450.0,347.2 L449.9,346.1 L448.9,345.2 L436.2,338.1 L434.6,337.5 L432.5,337.3 L430.6,337.6 L429.0,338.3 L428.2,339.2 L428.2,340.2 L429.2,341.1Z M473.0,325.9 L474.6,325.5 L476.4,325.4 L478.1,325.8 L479.3,326.4 L479.8,327.3 L479.5,328.1 L478.4,328.9 L463.3,335.4 L461.7,335.8 L459.8,335.9 L458.2,335.5 L457.0,334.9 L456.5,334.0 L456.8,333.1 L457.9,332.4Z M499.6,323.3 L501.3,323.9 L503.3,324.0 L505.2,323.8 L506.7,323.1 L507.4,322.2 L507.3,321.2 L506.3,320.4 L493.5,313.6 L491.8,313.0 L489.9,312.9 L488.0,313.1 L486.5,313.8 L485.7,314.7 L485.8,315.6 L486.8,316.5Z M528.6,302.0 L530.2,301.6 L531.9,301.6 L533.6,301.9 L534.8,302.5 L535.3,303.3 L535.1,304.2 L534.1,304.8 L519.7,311.0 L518.2,311.5 L516.4,311.5 L514.7,311.2 L513.5,310.5 L513.0,309.7 L513.2,308.9 L514.2,308.2Z M554.4,299.5 L556.1,300.1 L558.0,300.2 L559.9,300.0 L561.3,299.4 L562.0,298.5 L561.8,297.6 L560.8,296.8 L547.9,290.3 L546.3,289.8 L544.3,289.6 L542.5,289.9 L541.1,290.5 L540.4,291.3 L540.6,292.2 L541.6,293.0Z M581.5,279.3 L583.0,278.9 L584.7,278.9 L586.3,279.2 L587.5,279.8 L588.1,280.6 L587.9,281.3 L587.0,282.0 L573.3,287.9 L571.8,288.3 L570.1,288.3 L568.5,288.0 L567.3,287.4 L566.7,286.6 L566.9,285.9 L567.8,285.2Z M606.5,277.0 L608.2,277.5 L610.1,277.6 L611.9,277.4 L613.2,276.8 L613.8,276.0 L613.6,275.1 L612.6,274.3 L599.7,268.2 L598.1,267.7 L596.2,267.5 L594.4,267.8 L593.0,268.3 L592.4,269.1 L592.6,270.0 L593.7,270.8Z M631.9,257.7 L633.3,257.3 L635.0,257.3 L636.6,257.6 L637.8,258.2 L638.4,258.9 L638.2,259.6 L637.4,260.3 L624.3,265.9 L622.9,266.3 L621.2,266.3 L619.6,266.0 L618.4,265.4 L617.8,264.7 L618.0,263.9 L618.8,263.3Z M656.2,255.5 L657.8,256.0 L659.7,256.1 L661.4,255.9 L662.7,255.3 L663.2,254.5 L663.0,253.7 L661.9,253.0 L649.0,247.1 L647.4,246.6 L645.5,246.5 L643.8,246.7 L642.5,247.2 L642.0,248.0 L642.2,248.8 L643.3,249.6Z M679.9,237.1 L681.2,236.8 L682.9,236.7 L684.4,237.0 L685.6,237.5 L686.3,238.2 L686.2,239.0 L685.4,239.5 L672.9,244.9 L671.6,245.3 L669.9,245.3 L668.3,245.0 L667.1,244.5 L666.5,243.8 L666.6,243.0 L667.4,242.4Z M703.4,235.0 L705.1,235.4 L706.9,235.6 L708.6,235.4 L709.8,234.8 L710.3,234.1 L710.0,233.3 L708.9,232.6 L696.0,227.0 L694.4,226.5 L692.6,226.4 L690.9,226.6 L689.7,227.1 L689.2,227.8 L689.5,228.6 L690.5,229.3Z M725.7,217.5 L727.0,217.1 L728.6,217.1 L730.1,217.4 L731.3,217.9 L732.0,218.5 L731.9,219.2 L731.1,219.8 L719.3,224.9 L718.0,225.2 L716.4,225.3 L714.8,225.0 L713.6,224.5 L712.9,223.8 L713.0,223.1 L713.8,222.5Z M748.6,215.4 L750.2,215.9 L752.0,216.0 L753.6,215.8 L754.8,215.3 L755.2,214.6 L754.9,213.8 L753.8,213.1 L740.9,207.8 L739.3,207.3 L737.6,207.2 L735.9,207.4 L734.8,207.9 L734.3,208.6 L734.6,209.4 L735.7,210.0Z M769.4,198.7 L770.7,198.4 L772.2,198.3 L773.7,198.6 L775.0,199.1 L775.6,199.7 L775.6,200.4 L774.9,200.9 L763.5,205.8 L762.3,206.1 L760.7,206.1 L759.2,205.9 L757.9,205.4 L757.3,204.7 L757.3,204.1 L758.1,203.5Z M791.7,196.7 L793.3,197.2 L795.0,197.3 L796.6,197.1 L797.7,196.6 L798.2,195.9 L797.8,195.2 L796.7,194.6 L783.8,189.4 L782.3,189.0 L780.5,188.9 L778.9,189.1 L777.8,189.6 L777.4,190.2 L777.8,190.9 L778.8,191.6Z M811.2,180.7 L812.4,180.4 L813.9,180.4 L815.5,180.6 L816.7,181.1 L817.3,181.7 L817.3,182.3 L816.7,182.9 L805.8,187.5 L804.6,187.8 L803.1,187.9 L801.6,187.6 L800.3,187.1 L799.7,186.5 L799.7,185.9 L800.4,185.4Z M832.9,178.9 L834.5,179.3 L836.2,179.4 L837.8,179.2 L838.8,178.8 L839.2,178.1 L838.8,177.4 L837.7,176.8 L824.9,171.9 L823.3,171.5 L821.6,171.4 L820.1,171.5 L819.0,172.0 L818.6,172.6 L819.0,173.3 L820.1,173.9Z M851.2,163.6 L852.4,163.3 L853.9,163.2 L855.4,163.5 L856.6,163.9 L857.3,164.5 L857.3,165.1 L856.7,165.6 L846.3,170.1 L845.1,170.4 L843.6,170.4 L842.1,170.2 L840.9,169.7 L840.2,169.1 L840.2,168.5 L840.9,168.0Z M872.4,161.8 L873.9,162.2 L875.6,162.3 L877.1,162.1 L878.2,161.7 L878.5,161.0 L878.1,160.4 L877.0,159.8 L864.2,155.1 L862.6,154.7 L861.0,154.6 L859.5,154.8 L858.4,155.2 L858.1,155.8 L858.5,156.5 L859.6,157.0Z M889.6,147.1 L890.7,146.8 L892.2,146.8 L893.6,147.0 L894.8,147.4 L895.5,148.0 L895.6,148.6 L895.0,149.0 L885.1,153.3 L883.9,153.6 L882.5,153.6 L881.0,153.4 L879.8,153.0 L879.1,152.4 L879.0,151.8 L879.6,151.4Z M910.2,145.4 L911.7,145.8 L913.4,145.9 L914.9,145.7 L915.8,145.3 L916.1,144.7 L915.7,144.1 L914.6,143.5 L901.9,139.0 L900.3,138.6 L898.7,138.5 L897.2,138.7 L896.2,139.1 L895.9,139.7 L896.4,140.3 L897.5,140.8Z " fill="#fff"/>
<path d="M329.1,343.4 L330.7,344.0 L332.7,344.2 L334.8,343.9 L336.4,343.2 L337.3,342.3 L337.3,341.3 L336.5,340.4 L324.6,333.3 L323.0,332.8 L321.0,332.6 L319.0,332.9 L317.4,333.5 L316.5,334.4 L316.4,335.4 L317.3,336.3Z M362.7,321.2 L364.3,320.8 L366.1,320.8 L367.7,321.1 L368.9,321.8 L369.3,322.6 L368.9,323.5 L367.8,324.2 L351.9,330.7 L350.2,331.1 L348.4,331.1 L346.8,330.8 L345.6,330.1 L345.3,329.3 L345.7,328.4 L346.8,327.7Z " fill="#5a5a5a"/>
<path d="M414.4,351.1 L416.1,350.6 L417.9,350.6 L419.6,350.9 L420.8,351.6 L421.3,352.5 L420.9,353.4 L419.8,354.2 L403.8,361.1 L402.1,361.5 L400.3,361.6 L398.6,361.2 L397.4,360.5 L396.9,359.6 L397.3,358.7 L398.4,357.9Z " fill="#5a5a5a"/>
<path d="M344.4,329.5 L348.8,326.9 L353.8,329.9 L347.9,331.5Z " fill="#f4f4f4"/>
<path d="M396.0,359.8 L399.8,357.4 L405.1,360.5 L399.7,362.0Z " fill="#f4f4f4"/>
<path d="M315.3,334.5 L321.5,332.0 L329.5,336.3 L322.1,339.3Z " fill="#f4f4f4"/>
<path d="M176.8,463.1 L178.5,463.9 L180.8,464.1 L183.1,463.7 L185.1,462.9 L186.3,461.7 L186.5,460.4 L185.6,459.3 L182.5,457.0 L182.0,457.2 L180.8,457.7 L179.1,458.5 L177.1,459.3 L175.3,460.1 L174.1,460.6 L173.7,460.8Z M248.8,431.9 L250.5,432.6 L252.7,432.9 L254.9,432.5 L256.8,431.7 L257.9,430.6 L258.0,429.4 L257.1,428.4 L253.9,426.2 L253.5,426.3 L252.3,426.8 L250.7,427.5 L248.8,428.3 L247.2,429.1 L246.0,429.6 L245.6,429.7Z M316.8,402.5 L318.5,403.2 L320.6,403.4 L322.8,403.0 L324.5,402.3 L325.5,401.2 L325.5,400.1 L324.6,399.1 L321.4,397.0 L321.0,397.2 L319.9,397.7 L318.3,398.3 L316.6,399.1 L315.0,399.8 L313.9,400.2 L313.5,400.4Z M381.1,374.7 L382.7,375.3 L384.8,375.5 L386.9,375.2 L388.5,374.5 L389.4,373.5 L389.4,372.4 L388.5,371.4 L385.2,369.5 L384.8,369.6 L383.8,370.1 L382.3,370.7 L380.6,371.4 L379.2,372.1 L378.1,372.5 L377.8,372.7Z M441.9,348.3 L443.6,348.9 L445.6,349.1 L447.6,348.8 L449.2,348.1 L450.0,347.2 L449.9,346.1 L448.9,345.2 L445.6,343.4 L445.3,343.5 L444.3,343.9 L442.9,344.6 L441.3,345.2 L439.9,345.8 L438.9,346.3 L438.6,346.4Z M499.6,323.3 L501.3,323.9 L503.3,324.0 L505.2,323.8 L506.7,323.1 L507.4,322.2 L507.3,321.2 L506.3,320.4 L502.9,318.6 L502.6,318.8 L501.7,319.2 L500.4,319.7 L498.9,320.4 L497.5,321.0 L496.6,321.4 L496.3,321.5Z M554.4,299.5 L556.1,300.1 L558.0,300.2 L559.9,300.0 L561.3,299.4 L562.0,298.5 L561.8,297.6 L560.8,296.8 L557.4,295.1 L557.1,295.2 L556.2,295.6 L554.9,296.2 L553.5,296.8 L552.3,297.3 L551.4,297.7 L551.1,297.8Z M606.5,277.0 L608.2,277.5 L610.1,277.6 L611.9,277.4 L613.2,276.8 L613.8,276.0 L613.6,275.1 L612.6,274.3 L609.2,272.7 L608.9,272.9 L608.1,273.2 L606.9,273.7 L605.5,274.3 L604.3,274.8 L603.5,275.2 L603.2,275.3Z M656.2,255.5 L657.8,256.0 L659.7,256.1 L661.4,255.9 L662.7,255.3 L663.2,254.5 L663.0,253.7 L661.9,253.0 L658.5,251.4 L658.2,251.6 L657.4,251.9 L656.3,252.4 L655.0,253.0 L653.9,253.4 L653.1,253.8 L652.8,253.9Z M703.4,235.0 L705.1,235.4 L706.9,235.6 L708.6,235.4 L709.8,234.8 L710.3,234.1 L710.0,233.3 L708.9,232.6 L705.6,231.1 L705.3,231.2 L704.5,231.6 L703.4,232.0 L702.2,232.6 L701.1,233.0 L700.3,233.4 L700.1,233.5Z M748.6,215.4 L750.2,215.9 L752.0,216.0 L753.6,215.8 L754.8,215.3 L755.2,214.6 L754.9,213.8 L753.8,213.1 L750.4,211.7 L750.2,211.9 L749.5,212.2 L748.4,212.6 L747.2,213.1 L746.2,213.6 L745.5,213.9 L745.2,214.0Z M791.7,196.7 L793.3,197.2 L795.0,197.3 L796.6,197.1 L797.7,196.6 L798.2,195.9 L797.8,195.2 L796.7,194.6 L793.3,193.2 L793.1,193.3 L792.4,193.6 L791.4,194.1 L790.3,194.5 L789.3,195.0 L788.6,195.3 L788.3,195.4Z M832.9,178.9 L834.5,179.3 L836.2,179.4 L837.8,179.2 L838.8,178.8 L839.2,178.1 L838.8,177.4 L837.7,176.8 L834.3,175.5 L834.1,175.6 L833.4,175.9 L832.5,176.3 L831.4,176.8 L830.5,177.2 L829.8,177.5 L829.6,177.6Z M872.4,161.8 L873.9,162.2 L875.6,162.3 L877.1,162.1 L878.2,161.7 L878.5,161.0 L878.1,160.4 L877.0,159.8 L873.6,158.6 L873.4,158.7 L872.8,158.9 L871.8,159.3 L870.8,159.8 L869.9,160.2 L869.3,160.4 L869.0,160.5Z M910.2,145.4 L911.7,145.8 L913.4,145.9 L914.9,145.7 L915.8,145.3 L916.1,144.7 L915.7,144.1 L914.6,143.5 L911.2,142.3 L911.0,142.4 L910.4,142.7 L909.5,143.0 L908.6,143.5 L907.7,143.8 L907.1,144.1 L906.9,144.2Z " fill="#8a8a8a"/>
<path d="M197.4,506.3 L199.5,505.7 L201.6,505.7 L203.5,506.1 L204.7,507.0 L205.0,508.2 L204.4,509.5 L202.9,510.5 L182.6,519.8 L180.5,520.4 L178.3,520.4 L176.4,520.0 L175.2,519.0 L174.9,517.8 L175.6,516.6 L177.1,515.5Z " fill="#5c5c5c"/>
<polygon points="299.0,298.0 318.0,289.0 322.0,296.0 303.0,305.0" fill="#9c9c9c" />
<polygon points="299.0,298.0 318.0,289.0 319.0,291.0 300.0,300.0" fill="#c4c4c4" />
<polygon points="182.0,484.0 810.0,217.8 810.0,204.8 170.0,474.5" fill="url(#gUFLh)" />
<path d="M19.4,359.4 L810.0,66.3 L810.0,112.0 L31.0,422.5Z M72.0,355.0 L74.4,354.6 L76.4,355.4 L77.7,357.0 L78.1,359.3 L77.4,361.7 L75.8,363.8 L73.6,365.1 L55.5,372.0 L53.2,372.4 L51.1,371.6 L49.8,370.0 L49.4,367.7 L50.0,365.3 L51.7,363.2 L53.9,361.8Z M76.1,380.8 L78.4,380.5 L80.4,381.2 L81.7,382.8 L82.1,385.0 L81.4,387.4 L79.9,389.4 L77.7,390.8 L59.8,397.8 L57.5,398.2 L55.4,397.5 L54.1,395.9 L53.7,393.7 L54.4,391.2 L56.0,389.2 L58.2,387.8Z M139.6,329.6 L141.8,329.2 L143.8,330.0 L145.0,331.6 L145.3,333.8 L144.6,336.2 L143.1,338.2 L141.0,339.5 L123.8,346.0 L121.6,346.4 L119.6,345.7 L118.4,344.0 L118.1,341.8 L118.7,339.4 L120.3,337.4 L122.4,336.0Z M143.1,355.0 L145.3,354.6 L147.1,355.3 L148.3,356.9 L148.6,359.1 L148.0,361.4 L146.4,363.5 L144.4,364.8 L127.4,371.4 L125.2,371.8 L123.2,371.1 L122.0,369.5 L121.7,367.3 L122.4,364.9 L123.9,362.9 L126.0,361.6Z M203.9,305.4 L206.0,305.1 L207.8,305.8 L208.9,307.5 L209.2,309.6 L208.5,311.9 L207.0,313.9 L205.0,315.2 L188.7,321.4 L186.6,321.7 L184.7,320.9 L183.6,319.3 L183.3,317.1 L184.0,314.8 L185.5,312.8 L187.5,311.5Z M206.7,330.4 L208.8,330.1 L210.6,330.8 L211.7,332.4 L211.9,334.5 L211.2,336.8 L209.8,338.7 L207.8,340.0 L191.6,346.3 L189.5,346.6 L187.7,345.9 L186.6,344.4 L186.3,342.2 L187.0,339.9 L188.5,337.9 L190.5,336.6Z M265.1,282.3 L267.1,282.1 L268.8,282.8 L269.8,284.5 L270.0,286.6 L269.3,288.8 L267.9,290.8 L266.0,292.0 L250.4,297.9 L248.4,298.2 L246.7,297.4 L245.7,295.8 L245.4,293.7 L246.1,291.4 L247.6,289.4 L249.5,288.2Z M267.4,306.9 L269.3,306.7 L271.0,307.4 L272.0,309.0 L272.2,311.1 L271.5,313.3 L270.1,315.2 L268.2,316.4 L252.8,322.4 L250.8,322.7 L249.1,322.0 L248.1,320.4 L247.9,318.3 L248.5,316.1 L250.0,314.1 L251.9,312.9Z M323.5,260.4 L325.3,260.2 L326.9,260.9 L327.9,262.5 L328.0,264.6 L327.3,266.8 L326.0,268.7 L324.1,269.9 L309.3,275.5 L307.4,275.8 L305.8,275.0 L304.8,273.4 L304.6,271.3 L305.3,269.1 L306.7,267.2 L308.6,266.0Z M325.2,284.6 L327.1,284.3 L328.6,285.1 L329.6,286.6 L329.7,288.7 L329.0,290.9 L327.7,292.8 L325.9,293.9 L311.1,299.7 L309.2,299.9 L307.7,299.2 L306.7,297.7 L306.5,295.6 L307.2,293.4 L308.6,291.5 L310.4,290.3Z M379.1,239.5 L380.9,239.3 L382.4,240.0 L383.3,241.6 L383.4,243.7 L382.7,245.8 L381.3,247.7 L379.6,248.8 L365.4,254.2 L363.6,254.4 L362.1,253.6 L361.2,252.1 L361.1,250.0 L361.8,247.8 L363.1,246.0 L364.9,244.8Z M380.4,263.3 L382.1,263.1 L383.6,263.8 L384.5,265.3 L384.6,267.4 L383.9,269.5 L382.6,271.3 L380.9,272.5 L366.8,277.9 L365.0,278.2 L363.5,277.5 L362.6,275.9 L362.5,273.9 L363.2,271.7 L364.5,269.9 L366.3,268.7Z M432.3,219.5 L434.0,219.3 L435.4,220.1 L436.2,221.6 L436.3,223.7 L435.6,225.8 L434.3,227.6 L432.6,228.7 L419.0,233.8 L417.3,234.0 L415.9,233.2 L415.1,231.7 L415.0,229.6 L415.7,227.5 L417.0,225.7 L418.7,224.6Z M433.1,242.9 L434.8,242.7 L436.2,243.4 L437.0,245.0 L437.0,247.0 L436.4,249.1 L435.1,250.8 L433.4,251.9 L420.0,257.2 L418.3,257.4 L416.9,256.7 L416.0,255.1 L415.9,253.1 L416.6,251.0 L417.9,249.2 L419.6,248.1Z M483.1,200.4 L484.7,200.2 L486.0,201.0 L486.8,202.5 L486.8,204.5 L486.1,206.6 L484.9,208.3 L483.3,209.4 L470.3,214.3 L468.7,214.5 L467.3,213.7 L466.5,212.2 L466.5,210.2 L467.2,208.1 L468.5,206.3 L470.1,205.2Z M483.5,223.4 L485.1,223.2 L486.4,224.0 L487.2,225.5 L487.2,227.5 L486.5,229.5 L485.3,231.2 L483.7,232.3 L470.8,237.3 L469.2,237.5 L467.9,236.8 L467.1,235.3 L467.1,233.3 L467.7,231.2 L469.0,229.5 L470.6,228.4Z M531.7,182.1 L533.3,181.9 L534.5,182.7 L535.2,184.2 L535.2,186.2 L534.5,188.2 L533.3,189.9 L531.8,190.9 L519.4,195.7 L517.8,195.8 L516.5,195.1 L515.8,193.5 L515.8,191.5 L516.5,189.5 L517.7,187.8 L519.3,186.7Z M531.8,204.8 L533.3,204.6 L534.6,205.3 L535.3,206.8 L535.3,208.8 L534.6,210.8 L533.4,212.5 L531.8,213.5 L519.5,218.3 L518.0,218.5 L516.7,217.8 L516.0,216.3 L516.0,214.3 L516.7,212.3 L517.9,210.6 L519.5,209.5Z M578.3,164.5 L579.8,164.4 L581.0,165.2 L581.6,166.7 L581.6,168.6 L580.9,170.6 L579.7,172.3 L578.2,173.3 L566.3,177.8 L564.8,177.9 L563.7,177.2 L563.0,175.7 L563.0,173.7 L563.7,171.7 L564.9,170.0 L566.4,169.0Z M578.1,186.9 L579.5,186.7 L580.7,187.5 L581.3,189.0 L581.3,190.9 L580.6,192.9 L579.4,194.5 L578.0,195.5 L566.2,200.1 L564.7,200.3 L563.5,199.5 L562.8,198.1 L562.9,196.1 L563.5,194.1 L564.7,192.5 L566.2,191.5Z M623.0,147.7 L624.4,147.6 L625.5,148.4 L626.1,149.9 L626.1,151.8 L625.4,153.7 L624.2,155.4 L622.8,156.3 L611.4,160.7 L610.0,160.8 L608.8,160.0 L608.2,158.5 L608.3,156.6 L609.0,154.6 L610.1,153.0 L611.6,152.0Z M622.5,169.7 L623.9,169.6 L625.0,170.3 L625.5,171.8 L625.5,173.7 L624.8,175.6 L623.7,177.3 L622.2,178.2 L610.9,182.7 L609.5,182.8 L608.4,182.1 L607.8,180.6 L607.8,178.7 L608.5,176.7 L609.6,175.1 L611.1,174.1Z M665.9,131.6 L667.3,131.5 L668.3,132.3 L668.8,133.7 L668.8,135.6 L668.1,137.5 L667.0,139.1 L665.6,140.1 L654.6,144.2 L653.3,144.3 L652.2,143.6 L651.6,142.1 L651.7,140.2 L652.4,138.3 L653.5,136.7 L654.9,135.7Z M665.1,153.3 L666.4,153.2 L667.4,153.9 L668.0,155.3 L667.9,157.2 L667.2,159.1 L666.1,160.7 L664.7,161.6 L653.8,165.9 L652.5,166.0 L651.4,165.3 L650.9,163.8 L650.9,162.0 L651.6,160.0 L652.8,158.4 L654.1,157.5Z M707.1,116.1 L708.4,116.0 L709.4,116.8 L709.9,118.2 L709.8,120.1 L709.1,122.0 L708.0,123.5 L706.7,124.5 L696.1,128.5 L694.8,128.5 L693.8,127.8 L693.3,126.3 L693.4,124.5 L694.1,122.5 L695.2,121.0 L696.5,120.1Z M706.0,137.5 L707.3,137.4 L708.2,138.1 L708.7,139.5 L708.6,141.4 L708.0,143.2 L706.9,144.8 L705.6,145.7 L695.1,149.8 L693.8,149.9 L692.8,149.2 L692.3,147.7 L692.4,145.9 L693.0,144.0 L694.2,142.4 L695.5,141.5Z M746.7,101.2 L747.9,101.1 L748.9,101.9 L749.3,103.3 L749.2,105.2 L748.5,107.0 L747.4,108.6 L746.2,109.4 L736.0,113.3 L734.8,113.4 L733.8,112.6 L733.4,111.2 L733.5,109.3 L734.1,107.4 L735.2,105.9 L736.5,105.0Z M745.3,122.2 L746.6,122.2 L747.5,122.9 L747.9,124.3 L747.8,126.1 L747.2,128.0 L746.1,129.5 L744.8,130.4 L734.7,134.3 L733.5,134.4 L732.6,133.7 L732.1,132.2 L732.2,130.4 L732.9,128.6 L734.0,127.0 L735.2,126.1Z M784.8,86.9 L786.0,86.8 L786.8,87.6 L787.3,89.0 L787.1,90.8 L786.5,92.6 L785.4,94.1 L784.2,95.0 L774.4,98.7 L773.2,98.8 L772.3,98.0 L771.9,96.6 L772.0,94.8 L772.7,92.9 L773.8,91.4 L775.0,90.5Z M783.2,107.6 L784.4,107.5 L785.3,108.3 L785.7,109.7 L785.5,111.5 L784.9,113.3 L783.8,114.8 L782.6,115.6 L772.9,119.4 L771.7,119.5 L770.8,118.8 L770.4,117.4 L770.5,115.6 L771.2,113.7 L772.2,112.2 L773.5,111.4Z M821.4,73.1 L822.6,73.0 L823.4,73.8 L823.8,75.2 L823.6,77.0 L823.0,78.8 L821.9,80.2 L820.7,81.1 L811.4,84.6 L810.2,84.7 L809.4,83.9 L809.0,82.5 L809.1,80.7 L809.8,78.9 L810.8,77.5 L812.0,76.6Z M819.7,93.5 L820.8,93.5 L821.6,94.2 L822.0,95.6 L821.9,97.3 L821.2,99.1 L820.2,100.6 L819.0,101.4 L809.6,105.1 L808.5,105.1 L807.7,104.4 L807.3,103.0 L807.4,101.2 L808.1,99.5 L809.1,98.0 L810.3,97.1Z " fill="url(#gUBW)" fill-rule="evenodd"/>
<path d="M19.4,359.4 L810.0,66.3 L810.0,112.0 L31.0,422.5Z M72.0,355.0 L74.4,354.6 L76.4,355.4 L77.7,357.0 L78.1,359.3 L77.4,361.7 L75.8,363.8 L73.6,365.1 L55.5,372.0 L53.2,372.4 L51.1,371.6 L49.8,370.0 L49.4,367.7 L50.0,365.3 L51.7,363.2 L53.9,361.8Z M76.1,380.8 L78.4,380.5 L80.4,381.2 L81.7,382.8 L82.1,385.0 L81.4,387.4 L79.9,389.4 L77.7,390.8 L59.8,397.8 L57.5,398.2 L55.4,397.5 L54.1,395.9 L53.7,393.7 L54.4,391.2 L56.0,389.2 L58.2,387.8Z M139.6,329.6 L141.8,329.2 L143.8,330.0 L145.0,331.6 L145.3,333.8 L144.6,336.2 L143.1,338.2 L141.0,339.5 L123.8,346.0 L121.6,346.4 L119.6,345.7 L118.4,344.0 L118.1,341.8 L118.7,339.4 L120.3,337.4 L122.4,336.0Z M143.1,355.0 L145.3,354.6 L147.1,355.3 L148.3,356.9 L148.6,359.1 L148.0,361.4 L146.4,363.5 L144.4,364.8 L127.4,371.4 L125.2,371.8 L123.2,371.1 L122.0,369.5 L121.7,367.3 L122.4,364.9 L123.9,362.9 L126.0,361.6Z M203.9,305.4 L206.0,305.1 L207.8,305.8 L208.9,307.5 L209.2,309.6 L208.5,311.9 L207.0,313.9 L205.0,315.2 L188.7,321.4 L186.6,321.7 L184.7,320.9 L183.6,319.3 L183.3,317.1 L184.0,314.8 L185.5,312.8 L187.5,311.5Z M206.7,330.4 L208.8,330.1 L210.6,330.8 L211.7,332.4 L211.9,334.5 L211.2,336.8 L209.8,338.7 L207.8,340.0 L191.6,346.3 L189.5,346.6 L187.7,345.9 L186.6,344.4 L186.3,342.2 L187.0,339.9 L188.5,337.9 L190.5,336.6Z M265.1,282.3 L267.1,282.1 L268.8,282.8 L269.8,284.5 L270.0,286.6 L269.3,288.8 L267.9,290.8 L266.0,292.0 L250.4,297.9 L248.4,298.2 L246.7,297.4 L245.7,295.8 L245.4,293.7 L246.1,291.4 L247.6,289.4 L249.5,288.2Z M267.4,306.9 L269.3,306.7 L271.0,307.4 L272.0,309.0 L272.2,311.1 L271.5,313.3 L270.1,315.2 L268.2,316.4 L252.8,322.4 L250.8,322.7 L249.1,322.0 L248.1,320.4 L247.9,318.3 L248.5,316.1 L250.0,314.1 L251.9,312.9Z M323.5,260.4 L325.3,260.2 L326.9,260.9 L327.9,262.5 L328.0,264.6 L327.3,266.8 L326.0,268.7 L324.1,269.9 L309.3,275.5 L307.4,275.8 L305.8,275.0 L304.8,273.4 L304.6,271.3 L305.3,269.1 L306.7,267.2 L308.6,266.0Z M325.2,284.6 L327.1,284.3 L328.6,285.1 L329.6,286.6 L329.7,288.7 L329.0,290.9 L327.7,292.8 L325.9,293.9 L311.1,299.7 L309.2,299.9 L307.7,299.2 L306.7,297.7 L306.5,295.6 L307.2,293.4 L308.6,291.5 L310.4,290.3Z M379.1,239.5 L380.9,239.3 L382.4,240.0 L383.3,241.6 L383.4,243.7 L382.7,245.8 L381.3,247.7 L379.6,248.8 L365.4,254.2 L363.6,254.4 L362.1,253.6 L361.2,252.1 L361.1,250.0 L361.8,247.8 L363.1,246.0 L364.9,244.8Z M380.4,263.3 L382.1,263.1 L383.6,263.8 L384.5,265.3 L384.6,267.4 L383.9,269.5 L382.6,271.3 L380.9,272.5 L366.8,277.9 L365.0,278.2 L363.5,277.5 L362.6,275.9 L362.5,273.9 L363.2,271.7 L364.5,269.9 L366.3,268.7Z M432.3,219.5 L434.0,219.3 L435.4,220.1 L436.2,221.6 L436.3,223.7 L435.6,225.8 L434.3,227.6 L432.6,228.7 L419.0,233.8 L417.3,234.0 L415.9,233.2 L415.1,231.7 L415.0,229.6 L415.7,227.5 L417.0,225.7 L418.7,224.6Z M433.1,242.9 L434.8,242.7 L436.2,243.4 L437.0,245.0 L437.0,247.0 L436.4,249.1 L435.1,250.8 L433.4,251.9 L420.0,257.2 L418.3,257.4 L416.9,256.7 L416.0,255.1 L415.9,253.1 L416.6,251.0 L417.9,249.2 L419.6,248.1Z M483.1,200.4 L484.7,200.2 L486.0,201.0 L486.8,202.5 L486.8,204.5 L486.1,206.6 L484.9,208.3 L483.3,209.4 L470.3,214.3 L468.7,214.5 L467.3,213.7 L466.5,212.2 L466.5,210.2 L467.2,208.1 L468.5,206.3 L470.1,205.2Z M483.5,223.4 L485.1,223.2 L486.4,224.0 L487.2,225.5 L487.2,227.5 L486.5,229.5 L485.3,231.2 L483.7,232.3 L470.8,237.3 L469.2,237.5 L467.9,236.8 L467.1,235.3 L467.1,233.3 L467.7,231.2 L469.0,229.5 L470.6,228.4Z M531.7,182.1 L533.3,181.9 L534.5,182.7 L535.2,184.2 L535.2,186.2 L534.5,188.2 L533.3,189.9 L531.8,190.9 L519.4,195.7 L517.8,195.8 L516.5,195.1 L515.8,193.5 L515.8,191.5 L516.5,189.5 L517.7,187.8 L519.3,186.7Z M531.8,204.8 L533.3,204.6 L534.6,205.3 L535.3,206.8 L535.3,208.8 L534.6,210.8 L533.4,212.5 L531.8,213.5 L519.5,218.3 L518.0,218.5 L516.7,217.8 L516.0,216.3 L516.0,214.3 L516.7,212.3 L517.9,210.6 L519.5,209.5Z M578.3,164.5 L579.8,164.4 L581.0,165.2 L581.6,166.7 L581.6,168.6 L580.9,170.6 L579.7,172.3 L578.2,173.3 L566.3,177.8 L564.8,177.9 L563.7,177.2 L563.0,175.7 L563.0,173.7 L563.7,171.7 L564.9,170.0 L566.4,169.0Z M578.1,186.9 L579.5,186.7 L580.7,187.5 L581.3,189.0 L581.3,190.9 L580.6,192.9 L579.4,194.5 L578.0,195.5 L566.2,200.1 L564.7,200.3 L563.5,199.5 L562.8,198.1 L562.9,196.1 L563.5,194.1 L564.7,192.5 L566.2,191.5Z M623.0,147.7 L624.4,147.6 L625.5,148.4 L626.1,149.9 L626.1,151.8 L625.4,153.7 L624.2,155.4 L622.8,156.3 L611.4,160.7 L610.0,160.8 L608.8,160.0 L608.2,158.5 L608.3,156.6 L609.0,154.6 L610.1,153.0 L611.6,152.0Z M622.5,169.7 L623.9,169.6 L625.0,170.3 L625.5,171.8 L625.5,173.7 L624.8,175.6 L623.7,177.3 L622.2,178.2 L610.9,182.7 L609.5,182.8 L608.4,182.1 L607.8,180.6 L607.8,178.7 L608.5,176.7 L609.6,175.1 L611.1,174.1Z M665.9,131.6 L667.3,131.5 L668.3,132.3 L668.8,133.7 L668.8,135.6 L668.1,137.5 L667.0,139.1 L665.6,140.1 L654.6,144.2 L653.3,144.3 L652.2,143.6 L651.6,142.1 L651.7,140.2 L652.4,138.3 L653.5,136.7 L654.9,135.7Z M665.1,153.3 L666.4,153.2 L667.4,153.9 L668.0,155.3 L667.9,157.2 L667.2,159.1 L666.1,160.7 L664.7,161.6 L653.8,165.9 L652.5,166.0 L651.4,165.3 L650.9,163.8 L650.9,162.0 L651.6,160.0 L652.8,158.4 L654.1,157.5Z M707.1,116.1 L708.4,116.0 L709.4,116.8 L709.9,118.2 L709.8,120.1 L709.1,122.0 L708.0,123.5 L706.7,124.5 L696.1,128.5 L694.8,128.5 L693.8,127.8 L693.3,126.3 L693.4,124.5 L694.1,122.5 L695.2,121.0 L696.5,120.1Z M706.0,137.5 L707.3,137.4 L708.2,138.1 L708.7,139.5 L708.6,141.4 L708.0,143.2 L706.9,144.8 L705.6,145.7 L695.1,149.8 L693.8,149.9 L692.8,149.2 L692.3,147.7 L692.4,145.9 L693.0,144.0 L694.2,142.4 L695.5,141.5Z M746.7,101.2 L747.9,101.1 L748.9,101.9 L749.3,103.3 L749.2,105.2 L748.5,107.0 L747.4,108.6 L746.2,109.4 L736.0,113.3 L734.8,113.4 L733.8,112.6 L733.4,111.2 L733.5,109.3 L734.1,107.4 L735.2,105.9 L736.5,105.0Z M745.3,122.2 L746.6,122.2 L747.5,122.9 L747.9,124.3 L747.8,126.1 L747.2,128.0 L746.1,129.5 L744.8,130.4 L734.7,134.3 L733.5,134.4 L732.6,133.7 L732.1,132.2 L732.2,130.4 L732.9,128.6 L734.0,127.0 L735.2,126.1Z M784.8,86.9 L786.0,86.8 L786.8,87.6 L787.3,89.0 L787.1,90.8 L786.5,92.6 L785.4,94.1 L784.2,95.0 L774.4,98.7 L773.2,98.8 L772.3,98.0 L771.9,96.6 L772.0,94.8 L772.7,92.9 L773.8,91.4 L775.0,90.5Z M783.2,107.6 L784.4,107.5 L785.3,108.3 L785.7,109.7 L785.5,111.5 L784.9,113.3 L783.8,114.8 L782.6,115.6 L772.9,119.4 L771.7,119.5 L770.8,118.8 L770.4,117.4 L770.5,115.6 L771.2,113.7 L772.2,112.2 L773.5,111.4Z M821.4,73.1 L822.6,73.0 L823.4,73.8 L823.8,75.2 L823.6,77.0 L823.0,78.8 L821.9,80.2 L820.7,81.1 L811.4,84.6 L810.2,84.7 L809.4,83.9 L809.0,82.5 L809.1,80.7 L809.8,78.9 L810.8,77.5 L812.0,76.6Z M819.7,93.5 L820.8,93.5 L821.6,94.2 L822.0,95.6 L821.9,97.3 L821.2,99.1 L820.2,100.6 L819.0,101.4 L809.6,105.1 L808.5,105.1 L807.7,104.4 L807.3,103.0 L807.4,101.2 L808.1,99.5 L809.1,98.0 L810.3,97.1Z " fill="url(#gUBWr)" fill-rule="evenodd"/>
<polygon points="19.4,359.4 810.0,66.3 810.0,71.3 21.2,365.6" fill="#c9c9c9" />
<polygon points="19.4,359.4 810.0,66.3 810.0,68.5 20.2,362.4" fill="#dedede" />
<polygon points="18.6,359.6 21.4,360.4 33.0,422.0 30.2,423.2" fill="#d4d4d4" />
<polygon points="182.0,484.0 810.0,217.8 810.0,267.3 196.0,556.5" fill="url(#gUFW)" />
<polygon points="182.0,484.0 810.0,217.8 810.0,267.3 196.0,556.5" fill="url(#gUFWs)" />
<polygon points="182.0,484.0 810.0,217.8 810.0,229.8 184.0,496.0" fill="url(#gUFWr)" />
<polygon points="181.0,484.0 184.0,485.0 197.5,556.0 194.8,557.0" fill="#d8d8d8" />
<path d="M250.5,488.3 L249.4,480.6 L247.8,477.8 L244.3,477.3 L224.1,486.1 L221.4,487.8 L219.3,490.2 L218.1,493.1 L217.9,495.8 L218.9,498.0 L220.8,499.5 L223.4,499.8 L226.2,499.1Z M320.7,456.3 L319.9,448.8 L318.5,446.1 L315.2,445.6 L296.2,453.9 L293.7,455.5 L291.6,457.8 L290.4,460.6 L290.2,463.2 L291.0,465.4 L292.8,466.8 L295.1,467.2 L297.8,466.5Z M387.1,426.1 L386.5,418.9 L385.3,416.2 L382.3,415.7 L364.3,423.5 L361.9,425.0 L359.9,427.3 L358.7,429.9 L358.4,432.5 L359.1,434.6 L360.7,436.0 L362.9,436.4 L365.4,435.8Z M449.9,397.6 L449.6,390.5 L448.5,388.0 L445.7,387.4 L428.7,394.8 L426.4,396.2 L424.5,398.4 L423.3,400.9 L422.9,403.4 L423.5,405.5 L425.0,406.8 L427.0,407.3 L429.4,406.7Z M509.4,370.5 L509.3,363.7 L508.4,361.2 L505.7,360.6 L489.6,367.6 L487.4,369.0 L485.6,371.1 L484.4,373.5 L484.0,375.9 L484.5,377.9 L485.9,379.3 L487.8,379.7 L490.0,379.2Z M566.0,344.9 L566.0,338.2 L565.2,335.8 L562.7,335.2 L547.4,341.8 L545.4,343.2 L543.6,345.2 L542.4,347.5 L542.0,349.9 L542.4,351.8 L543.6,353.1 L545.4,353.6 L547.5,353.1Z M619.7,320.5 L619.9,314.1 L619.2,311.7 L616.8,311.1 L602.3,317.4 L600.3,318.7 L598.6,320.6 L597.5,322.9 L597.0,325.1 L597.4,327.1 L598.5,328.3 L600.1,328.8 L602.1,328.3Z M670.8,297.4 L671.1,291.1 L670.5,288.8 L668.3,288.2 L654.5,294.2 L652.6,295.4 L651.0,297.3 L649.8,299.5 L649.3,301.7 L649.6,303.5 L650.6,304.7 L652.2,305.2 L654.1,304.8Z M719.5,275.3 L719.9,269.3 L719.4,267.1 L717.3,266.5 L704.2,272.1 L702.4,273.3 L700.8,275.1 L699.6,277.2 L699.2,279.3 L699.4,281.1 L700.3,282.3 L701.8,282.8 L703.5,282.4Z M765.9,254.3 L766.4,248.5 L766.0,246.3 L764.1,245.7 L751.6,251.1 L749.8,252.2 L748.3,253.9 L747.1,256.0 L746.6,258.0 L746.8,259.8 L747.7,261.0 L749.0,261.4 L750.7,261.0Z M810.2,234.3 L810.9,228.6 L810.5,226.5 L808.7,225.9 L796.7,231.1 L795.1,232.2 L793.6,233.8 L792.5,235.8 L791.9,237.8 L792.1,239.5 L792.8,240.6 L794.1,241.0 L795.7,240.7Z M852.6,215.2 L853.3,209.7 L853.0,207.6 L851.3,207.0 L839.9,212.0 L838.3,213.0 L836.8,214.6 L835.7,216.5 L835.2,218.4 L835.3,220.1 L836.0,221.2 L837.2,221.6 L838.7,221.3Z " fill="#d2d2d2"/>
<path d="M220.2,499.0 L232.0,492.7 L236.4,494.2 L223.8,500.0Z M292.2,466.3 L303.4,460.4 L307.5,461.9 L295.5,467.4Z M360.2,435.5 L370.8,429.9 L374.6,431.4 L363.3,436.6Z M424.5,406.4 L434.5,401.0 L438.0,402.5 L427.3,407.5Z M485.4,378.8 L495.0,373.7 L498.2,375.2 L488.1,379.9Z M543.2,352.7 L552.3,347.9 L555.3,349.3 L545.7,353.7Z M598.1,327.9 L606.7,323.3 L609.5,324.7 L600.4,328.9Z M650.3,304.3 L658.5,299.9 L661.1,301.4 L652.4,305.4Z M700.0,281.9 L707.9,277.7 L710.3,279.1 L702.0,282.9Z M747.4,260.6 L754.9,256.6 L757.1,257.9 L749.2,261.6Z M792.6,240.2 L799.8,236.4 L801.9,237.7 L794.3,241.2Z M835.8,220.8 L842.7,217.1 L844.6,218.5 L837.4,221.8Z " fill="#8c8c8c"/>
<path d="M218.3,496.0 L221.4,490.8 L232.8,486.8 L232.0,492.7 L220.2,499.0Z M290.5,463.4 L293.6,458.4 L304.3,454.7 L303.4,460.4 L292.2,466.3Z M358.7,432.6 L361.7,427.8 L371.8,424.4 L370.8,429.9 L360.2,435.5Z M423.2,403.6 L426.2,398.9 L435.6,395.7 L434.5,401.0 L424.5,406.4Z M484.3,376.1 L487.2,371.6 L496.1,368.6 L495.0,373.7 L485.4,378.8Z M542.2,350.0 L545.0,345.7 L553.5,342.9 L552.3,347.9 L543.2,352.7Z M597.2,325.3 L600.0,321.1 L608.0,318.5 L606.7,323.3 L598.1,327.9Z M649.5,301.8 L652.2,297.8 L659.8,295.3 L658.5,299.9 L650.3,304.3Z M699.3,279.5 L701.9,275.6 L709.2,273.2 L707.9,277.7 L700.0,281.9Z M746.8,258.2 L749.4,254.5 L756.2,252.2 L754.9,256.6 L747.4,260.6Z M792.1,237.9 L794.6,234.3 L801.1,232.2 L799.8,236.4 L792.6,240.2Z M835.4,218.6 L837.8,215.1 L844.0,213.0 L842.7,217.1 L835.8,220.8Z " fill="#444444"/>
<path d="M252.6,497.1L253.6,503.5M322.5,464.9L323.1,471.1M388.5,434.5L388.9,440.5M451.0,405.7L451.2,411.5M510.2,378.5L510.3,384.1M566.5,352.6L566.5,358.0M620.0,328.0L619.8,333.3M670.9,304.6L670.6,309.8M719.4,282.4L719.1,287.4M765.7,261.1L765.3,266.0M809.9,240.9L809.4,245.6M852.2,221.6L851.6,226.1" stroke="#8a8a8a" stroke-width="1.2" fill="none" opacity="0.7"/>
<polygon points="535.8,170.0 545.4,170.0 541.8,414.0 532.2,414.0" fill="url(#gROD2)" />
<path d="M535.8,172.2L545.4,171.0M535.7,175.4L545.3,174.2M535.7,178.6L545.3,177.4M535.6,181.8L545.2,180.6M535.6,185.0L545.2,183.8M535.5,188.3L545.1,187.1M535.5,191.5L545.1,190.3M535.4,194.7L545.0,193.5M535.4,197.9L545.0,196.7M535.4,201.1L544.9,199.9M535.3,204.3L544.9,203.1M535.3,207.5L544.9,206.3M535.2,210.7L544.8,209.5M535.2,213.9L544.8,212.7M535.1,217.2L544.7,216.0M535.1,220.4L544.7,219.2M535.0,223.6L544.6,222.4M535.0,226.8L544.6,225.6M534.9,230.0L544.5,228.8M534.9,233.2L544.5,232.0M534.8,236.4L544.4,235.2M534.8,239.6L544.4,238.4M534.7,242.8L544.3,241.6M534.7,246.0L544.3,244.8M534.6,249.3L544.2,248.1M534.6,252.5L544.2,251.3M534.5,255.7L544.1,254.5M534.5,258.9L544.1,257.7M534.5,262.1L544.0,260.9M534.4,265.3L544.0,264.1M534.4,268.5L544.0,267.3M534.3,271.7L543.9,270.5M534.3,274.9L543.9,273.7M534.2,278.2L543.8,277.0M534.2,281.4L543.8,280.2M534.1,284.6L543.7,283.4M534.1,287.8L543.7,286.6M534.0,291.0L543.6,289.8M534.0,294.2L543.6,293.0M533.9,297.4L543.5,296.2M533.9,300.6L543.5,299.4M533.8,303.8L543.4,302.6M533.8,307.0L543.4,305.8M533.7,310.3L543.3,309.1M533.7,313.5L543.3,312.3M533.6,316.7L543.2,315.5M533.6,319.9L543.2,318.7M533.6,323.1L543.1,321.9M533.5,326.3L543.1,325.1M533.5,329.5L543.1,328.3M533.4,332.7L543.0,331.5M533.4,335.9L543.0,334.7M533.3,339.2L542.9,338.0M533.3,342.4L542.9,341.2M533.2,345.6L542.8,344.4M533.2,348.8L542.8,347.6M533.1,352.0L542.7,350.8M533.1,355.2L542.7,354.0M533.0,358.4L542.6,357.2M533.0,361.6L542.6,360.4M532.9,364.8L542.5,363.6M532.9,368.0L542.5,366.8M532.8,371.3L542.4,370.1M532.8,374.5L542.4,373.3M532.7,377.7L542.3,376.5M532.7,380.9L542.3,379.7M532.7,384.1L542.2,382.9M532.6,387.3L542.2,386.1M532.6,390.5L542.2,389.3M532.5,393.7L542.1,392.5M532.5,396.9L542.1,395.7M532.4,400.2L542.0,399.0M532.4,403.4L542.0,402.2M532.3,406.6L541.9,405.4M532.3,409.8L541.9,408.6M532.2,413.0L541.8,411.8" stroke="#7a7a7a" stroke-width="0.9" fill="none" opacity="0.55"/>
<ellipse cx="540.6" cy="171.2" rx="4.8" ry="1.8" fill="#cfcfcf"/>
</g>
<rect x="398" y="75" width="246" height="46" rx="23.0" fill="#858585"/>
<text x="412.5" y="111" font-family="Liberation Sans, sans-serif" font-size="33.5" fill="#ffffff" opacity="0.999" textLength="215" lengthAdjust="spacingAndGlyphs">Threaded Rod</text>
<rect x="33" y="201" width="184" height="56" rx="28.0" fill="#858585"/>
<text x="46.5" y="239" font-family="Liberation Sans, sans-serif" font-size="33" fill="#ffffff" opacity="0.999" textLength="159" lengthAdjust="spacingAndGlyphs">Cable Tray</text>
<rect x="601" y="613" width="173" height="44" rx="22.0" fill="#858585"/>
<text x="609.5" y="647" font-family="Liberation Sans, sans-serif" font-size="32.5" fill="#ffffff" opacity="0.999" textLength="152" lengthAdjust="spacingAndGlyphs">C Channel</text>
<path d="M392,97.5H335L325.2,140.8 M224,230H259.6L264.7,269.4 M592,634.3H558L538.6,595.6" stroke="#555555" stroke-width="0.9" fill="none"/>
</svg>
</body></html>
